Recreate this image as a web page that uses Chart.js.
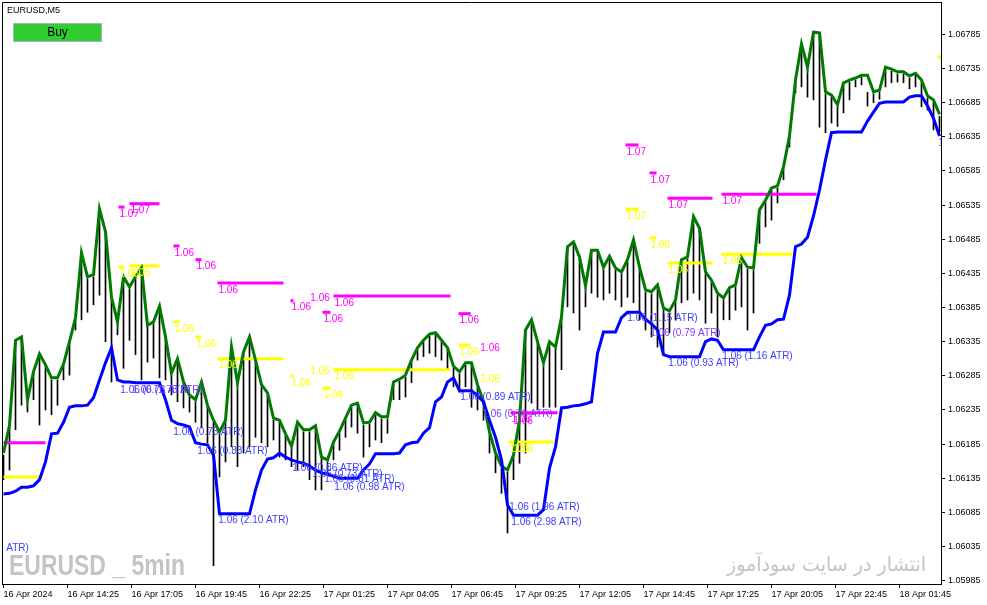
<!DOCTYPE html>
<html><head><meta charset="utf-8">
<script src="https://cdn.jsdelivr.net/npm/chart.js@4.4.1/dist/chart.umd.min.js"></script>
<style>html,body{margin:0;padding:0;background:#fff;}#wrap{width:987px;height:605px;position:relative;}</style>
</head><body><div id="wrap"><canvas id="c"></canvas></div>
<script>
const STEP = 3; // bars between samples (M5 bars)
const xTickBars = [0,32,64,96,128,160,192,224,256,288,320,352,384,416,448];
const xTickLabels = ["16 Apr 2024","16 Apr 14:25","16 Apr 17:05","16 Apr 19:45","16 Apr 22:25","17 Apr 01:25","17 Apr 04:05","17 Apr 06:45","17 Apr 09:25","17 Apr 12:05","17 Apr 14:45","17 Apr 17:25","17 Apr 20:05","17 Apr 22:45","18 Apr 01:45"];
const yTicks = [1.05985,1.06035,1.06085,1.06135,1.06185,1.06235,1.06285,1.06335,1.06385,1.06435,1.06485,1.06535,1.06585,1.06635,1.06685,1.06735,1.06785];

const greenLine = [
1.06172,1.06213,1.06337,1.06342,1.06250,1.06291,1.06317,1.06301,1.06282,1.06282,
1.06302,1.06335,1.06370,1.06465,1.06430,1.06433,1.06529,1.06496,1.06400,1.06364,
1.06430,1.06415,1.06430,1.06443,1.06359,1.06364,1.06387,1.06342,1.06289,1.06310,
1.06276,1.06257,1.06250,1.06276,1.06242,1.06220,1.06203,1.06220,1.06327,1.06275,
1.06320,1.06342,1.06308,1.06272,1.06260,1.06223,1.06220,1.06200,1.06182,1.06217,
1.06206,1.06206,1.06212,1.06166,1.06162,1.06188,1.06204,1.06223,1.06242,1.06245,
1.06216,1.06217,1.06231,1.06225,1.06225,1.06276,1.06280,1.06286,1.06308,1.06326,
1.06337,1.06346,1.06348,1.06337,1.06326,1.06299,1.06291,1.06304,1.06304,1.06272,
1.06247,1.06203,1.06172,1.06153,1.06147,1.06169,1.06220,1.06352,1.06367,1.06335,
1.06304,1.06335,1.06327,1.06371,1.06474,1.06481,1.06459,1.06417,1.06469,1.06469,
1.06444,1.06460,1.06443,1.06437,1.06455,1.06484,1.06444,1.06411,1.06408,1.06418,
1.06384,1.06380,1.06396,1.06455,1.06459,1.06518,1.06501,1.06437,1.06425,1.06406,
1.06399,1.06414,1.06418,1.06458,1.06444,1.06443,1.06528,1.06542,1.06560,1.06563,
1.06591,1.06636,1.06718,1.06771,1.06737,1.06788,1.06787,1.06701,1.06696,1.06682,
1.06714,1.06718,1.06721,1.06725,1.06725,1.06701,1.06703,1.06737,1.06734,1.06730,
1.06730,1.06724,1.06728,1.06718,1.06695,1.06689,1.06668];

const blueStop = [
1.06112,1.06113,1.06116,1.06122,1.06122,1.06124,1.06133,1.06159,1.06200,1.06201,
1.06217,1.06239,1.06241,1.06241,1.06242,1.06253,1.06279,1.06304,1.06326,1.06279,
1.06276,1.06276,1.06275,1.06275,1.06275,1.06275,1.06275,1.06250,1.06220,1.06215,
1.06213,1.06210,1.06187,1.06185,1.06184,1.06169,1.06083,1.06083,1.06083,1.06083,
1.06083,1.06083,1.06118,1.06147,1.06163,1.06165,1.06172,1.06166,1.06162,1.06159,
1.06157,1.06153,1.06147,1.06143,1.06141,1.06138,1.06135,1.06135,1.06135,1.06135,
1.06147,1.06156,1.06171,1.06171,1.06171,1.06171,1.06172,1.06184,1.06187,1.06188,
1.06201,1.06209,1.06247,1.06254,1.06276,1.06282,1.06263,1.06263,1.06263,1.06256,
1.06247,1.06220,1.06195,1.06162,1.06096,1.06081,1.06081,1.06081,1.06081,1.06081,
1.06089,1.06150,1.06181,1.06238,1.06239,1.06241,1.06242,1.06244,1.06247,1.06318,
1.06349,1.06349,1.06349,1.06370,1.06378,1.06378,1.06378,1.06368,1.06361,1.06352,
1.06316,1.06313,1.06313,1.06313,1.06313,1.06313,1.06313,1.06335,1.06339,1.06337,
1.06323,1.06323,1.06323,1.06323,1.06323,1.06323,1.06342,1.06359,1.06361,1.06367,
1.06368,1.06403,1.06474,1.06478,1.06488,1.06519,1.06557,1.06601,1.06641,1.06642,
1.06642,1.06642,1.06642,1.06642,1.06658,1.06671,1.06684,1.06686,1.06686,1.06686,
1.06686,1.06693,1.06695,1.06695,1.06680,1.06662,1.06636];

const barHigh = [
1.06169,1.06210,1.06334,1.06339,1.06247,1.06288,1.06314,1.06298,1.06279,1.06279,
1.06299,1.06332,1.06367,1.06462,1.06427,1.06430,1.06526,1.06493,1.06397,1.06361,
1.06427,1.06412,1.06427,1.06440,1.06356,1.06361,1.06384,1.06339,1.06286,1.06307,
1.06273,1.06254,1.06247,1.06273,1.06239,1.06217,1.06200,1.06217,1.06324,1.06272,
1.06317,1.06339,1.06305,1.06269,1.06257,1.06220,1.06217,1.06197,1.06179,1.06214,
1.06203,1.06203,1.06209,1.06163,1.06159,1.06185,1.06201,1.06220,1.06239,1.06242,
1.06213,1.06214,1.06228,1.06222,1.06222,1.06273,1.06277,1.06283,1.06305,1.06323,
1.06334,1.06343,1.06345,1.06334,1.06323,1.06296,1.06288,1.06301,1.06301,1.06269,
1.06244,1.06200,1.06169,1.06150,1.06144,1.06166,1.06217,1.06349,1.06364,1.06332,
1.06301,1.06332,1.06324,1.06368,1.06471,1.06478,1.06456,1.06414,1.06466,1.06466,
1.06441,1.06457,1.06440,1.06434,1.06452,1.06481,1.06441,1.06408,1.06405,1.06415,
1.06381,1.06377,1.06393,1.06452,1.06456,1.06515,1.06498,1.06434,1.06422,1.06403,
1.06396,1.06411,1.06415,1.06455,1.06441,1.06440,1.06525,1.06539,1.06557,1.06560,
1.06588,1.06633,1.06715,1.06768,1.06734,1.06785,1.06784,1.06698,1.06693,1.06679,
1.06711,1.06715,1.06718,1.06722,1.06700,1.06698,1.06700,1.06734,1.06731,1.06727,
1.06727,1.06721,1.06725,1.06715,1.06692,1.06686,1.06665];

const barLow = [
1.06133,1.06147,1.06206,1.06242,1.06232,1.06250,1.06213,1.06235,1.06228,1.06242,
1.06279,1.06286,1.06352,1.06367,1.06378,1.06389,1.06403,1.06335,1.06276,1.06345,
1.06296,1.06337,1.06316,1.06279,1.06305,1.06311,1.06282,1.06279,1.06257,1.06247,
1.06238,1.06232,1.06217,1.06209,1.06187,1.06007,1.06137,1.06159,1.06181,1.06152,
1.06172,1.06181,1.06195,1.06187,1.06181,1.06191,1.06166,1.06162,1.06152,1.06147,
1.06152,1.06133,1.06118,1.06118,1.06143,1.06162,1.06176,1.06195,1.06210,1.06201,
1.06166,1.06181,1.06191,1.06187,1.06201,1.06250,1.06250,1.06254,1.06275,1.06308,
1.06313,1.06318,1.06313,1.06308,1.06294,1.06269,1.06261,1.06269,1.06239,1.06235,
1.06220,1.06172,1.06143,1.06113,1.06055,1.06133,1.06157,1.06172,1.06245,1.06235,
1.06239,1.06239,1.06239,1.06294,1.06386,1.06377,1.06352,1.06386,1.06406,1.06400,
1.06396,1.06406,1.06396,1.06386,1.06400,1.06392,1.06367,1.06352,1.06342,1.06327,
1.06318,1.06348,1.06367,1.06392,1.06396,1.06406,1.06396,1.06362,1.06377,1.06342,
1.06367,1.06367,1.06381,1.06386,1.06352,1.06377,1.06479,1.06503,1.06513,1.06538,
1.06572,1.06620,1.06699,1.06708,1.06693,1.06689,1.06649,1.06641,1.06655,1.06650,
1.06670,1.06689,1.06708,1.06711,1.06680,1.06685,1.06690,1.06708,1.06714,1.06715,
1.06714,1.06705,1.06708,1.06679,1.06674,1.06645,1.06642];

// magenta (upper target) levels: start bar, end bar, price, label
const magStart = [0,57.5,63,85,96,107,143.5,165,159.5,227.5,253.5,311,323,332,359];
const magEnd   = [21,60.5,78,88,99,140,145,223.5,163.5,233.5,277,317.5,326.5,354.5,406.5];
const magPrice = [1.06187,1.06532,1.06537,1.06475,1.06455,1.06421,1.06395,1.06402,1.06378,1.06376,1.06231,1.06623,1.06582,1.06545,1.06551];
const magText  = ["","1.07","1.07","1.06","1.06","1.06","1.06","1.06","1.06","1.06","1.06","1.07","1.07","1.07","1.07"];
// yellow (lower target) levels
const yelStart = [0,57.5,63,85,96,107,143.5,165,159.5,227.5,252.5,311,323,332,359,467];
const yelEnd   = [19.5,60.5,78,88,99,140,145,223.5,163.5,233.5,275,317.5,326.5,354.5,394.5,469];
const yelPrice = [1.06137,1.06444,1.06446,1.06364,1.06342,1.06310,1.06285,1.06294,1.06267,1.06330,1.06188,1.06529,1.06487,1.06450,1.06463,1.06752];
const yelText  = ["","1.06","1.06","1.06","1.06","1.06","1.06","1.06","1.06","1.06","1.06","1.07","1.06","1.06","1.06","1.07"];
// loose price notes
const noteBar   = [153.4,238.4,254.9,153.4,238.4,254.9];
const notePrice = [1.06399,1.06326,1.06219,1.06291,1.06280,1.06178];
const noteText  = ["1.06","1.06","1.06","1.06","1.06","1.06"];
const noteTone  = ["m","m","m","y","y","y"];
// stop notes
const atrBar   = [1.4,58.4,64.4,84.9,96.9,107.4,144.4,154.4,160.4,165.4,228.4,239.4,252.9,253.9,311.9,323.4,332.4,359.4,467.4];
const atrPrice = [1.06032,1.06264,1.06264,1.06203,1.06175,1.06073,1.06150,1.06141,1.06133,1.06122,1.06253,1.06228,1.06092,1.06071,1.06370,1.06348,1.06304,1.06313,1.06626];
const atrText  = ["ATR)","1.06 (0.78 ATR)","1.06 (1.78 ATR)","1.06 (0.73 ATR)","1.06 (0.83 ATR)","1.06 (2.10 ATR)","1.06 (0.86 ATR)","1.06 (0.73 ATR)","1.06 (0.81 ATR)","1.06 (0.98 ATR)","1.06 (0.89 ATR)","1.06 (0.76 ATR)","1.06 (1.96 ATR)","1.06 (2.98 ATR)","1.06 (1.15 ATR)","1.06 (0.79 ATR)","1.06 (0.93 ATR)","1.06 (1.16 ATR)","1.06 (0.71 ATR)"];
const atrTone  = ["b","b","v","b","b","b","b","b","b","b","b","v","b","b","b","v","b","b","v"];

const TONES = {m:'#ff00ff', y:'#ffff00', b:'#3c3cff', v:'#7a3cff'};
const FONT = '"Liberation Sans", Arial, sans-serif';
Chart.defaults.font.family = FONT;

const datasets = [];
datasets.push({type:'line', label:'stop', data: blueStop.map((v,i)=>({x:i*STEP,y:v})), borderColor:'#0000ff', borderWidth:3, pointRadius:0, tension:0, order:0});
datasets.push({type:'line', label:'upper', data: greenLine.map((v,i)=>({x:i*STEP,y:v})), borderColor:'#007a00', borderWidth:3, pointRadius:0, tension:0, order:1});
magStart.forEach((s,i)=>datasets.push({type:'line', data:[{x:s,y:magPrice[i]},{x:magEnd[i],y:magPrice[i]}], borderColor:'#ff00ff', borderWidth:3, pointRadius:0, borderCapStyle:'butt', order:2}));
yelStart.forEach((s,i)=>datasets.push({type:'line', data:[{x:s,y:yelPrice[i]},{x:yelEnd[i],y:yelPrice[i]}], borderColor:'#ffff00', borderWidth:3, pointRadius:0, borderCapStyle:'butt', order:2}));
datasets.push({type:'bar', label:'bars', data: barHigh.map((h,i)=>({x:i*STEP,y:[barLow[i],h]})), backgroundColor:'#000', borderWidth:0, barThickness:1, grouped:false, order:3});

const decor = {
  id:'decor',
  beforeDraw(chart){const c=chart.ctx;c.save();c.fillStyle='#fff';c.fillRect(0,0,chart.width,chart.height);c.restore();},
  beforeDatasetsDraw(chart){
    const c=chart.ctx,a=chart.chartArea;
    c.save();
    c.fillStyle='#c4c4c4';
    c.textAlign='left';c.textBaseline='alphabetic';
    c.font='bold 29px '+FONT;
    let t='EURUSD _ 5min', w=c.measureText(t).width;
    c.translate(a.left+7,a.bottom-9);c.scale(176/w,1);c.fillText(t,0,0);
    c.restore();c.save();
    c.fillStyle='#c4c4c4';c.textAlign='left';c.textBaseline='alphabetic';
    c.font='20px "DejaVu Sans", sans-serif';
    t='انتشار در سایت سودآموز';w=c.measureText(t).width;
    c.translate(727,571);c.scale(199/w,1);c.fillText(t,0,0);
    c.restore();
  },
  afterDatasetsDraw(chart){
    const c=chart.ctx,a=chart.chartArea,xs=chart.scales.x,ys=chart.scales.y;
    c.save();
    c.beginPath();c.rect(a.left,a.top,a.right-a.left,a.bottom-a.top);c.clip();
    c.font='10px '+FONT;c.textBaseline='middle';c.textAlign='left';
    magStart.forEach((s,i)=>{if(!magText[i])return;c.fillStyle=TONES.m;c.fillText(magText[i],xs.getPixelForValue(s)+1,ys.getPixelForValue(magPrice[i])+7);});
    yelStart.forEach((s,i)=>{if(!yelText[i])return;c.fillStyle=TONES.y;c.fillText(yelText[i],xs.getPixelForValue(s)+1,ys.getPixelForValue(yelPrice[i])+7);});
    noteBar.forEach((b,i)=>{c.fillStyle=TONES[noteTone[i]];c.fillText(noteText[i],xs.getPixelForValue(b),ys.getPixelForValue(notePrice[i]));});
    atrBar.forEach((b,i)=>{c.fillStyle=TONES[atrTone[i]];c.fillText(atrText[i],xs.getPixelForValue(b),ys.getPixelForValue(atrPrice[i]));});
    c.restore();
    c.save();
    c.strokeStyle='#000';c.lineWidth=1;
    c.beginPath();c.moveTo(a.left+0.5,a.bottom);c.lineTo(a.left+0.5,a.top+0.5);c.lineTo(a.right,a.top+0.5);c.stroke();
    c.fillStyle='#000';c.font='9px '+FONT;c.textBaseline='middle';c.textAlign='left';
    c.fillText('EURUSD,M5',7,10.5);
    c.fillStyle='#32cd32';c.fillRect(13,23,89,19);
    c.strokeStyle='#a9b3c3';c.strokeRect(13.5,23.5,88,18);
    c.fillStyle='#000';c.font='12px '+FONT;c.textAlign='center';
    c.fillText('Buy',57.5,33);
    c.restore();
  }
};

const axisGrid = {display:true, drawOnChartArea:false, drawTicks:true, tickLength:4, color:'#000', offset:false};
new Chart(document.getElementById('c'), {
  type:'bar',
  data:{datasets},
  options:{
    responsive:true, maintainAspectRatio:false, animation:false, events:[],
    layout:{padding:{left:2,top:2,right:0,bottom:0}},
    plugins:{legend:{display:false}, tooltip:{enabled:false}, title:{display:false}},
    scales:{
      x:{type:'linear', min:-0.75, max:468.75, offset:false, grid:axisGrid,
         border:{display:true,color:'#000',width:1},
         afterBuildTicks(s){s.ticks=xTickBars.map(v=>({value:v}));},
         afterFit(s){s.height=21;s.paddingLeft=0;s.paddingRight=0;},
         ticks:{autoSkip:false,maxRotation:0,minRotation:0,align:'start',padding:1,color:'#000',font:{size:9},callback:(v,i)=>xTickLabels[i]}},
      y:{type:'linear', position:'right', min:1.059802, max:1.068323, grid:axisGrid,
         border:{display:true,color:'#000',width:1},
         afterBuildTicks(s){s.ticks=yTicks.map(v=>({value:v}));},
         afterFit(s){s.width=46;s.paddingTop=0;s.paddingBottom=0;},
         ticks:{padding:3,color:'#000',font:{size:9},callback:v=>Number(v).toFixed(5)}}
    }
  },
  plugins:[decor]
});
</script></body></html>
